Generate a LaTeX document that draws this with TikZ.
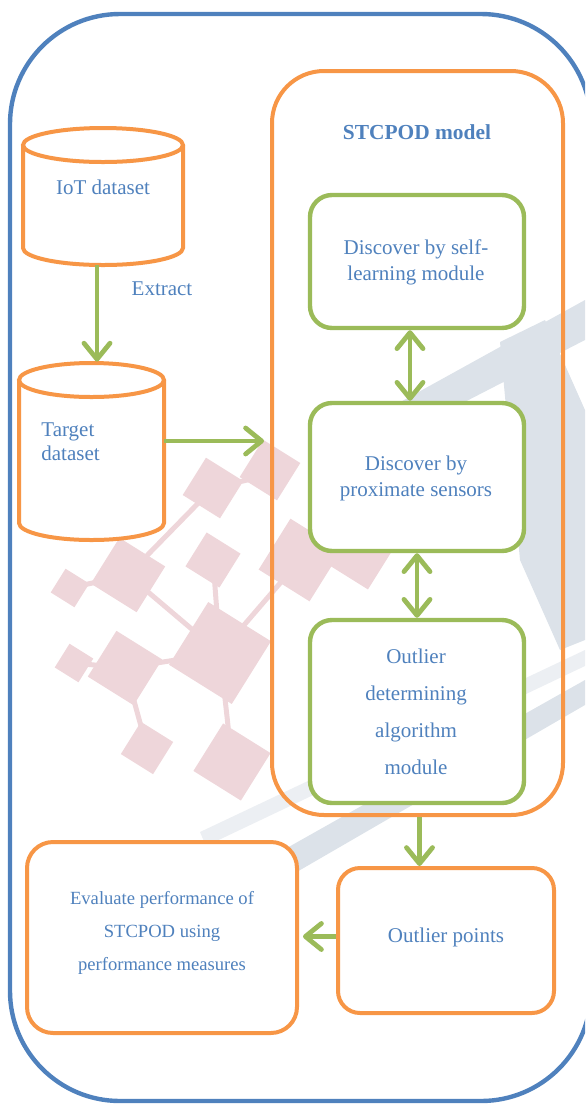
\documentclass[tikz,border=0pt]{standalone}
\usepackage{fontspec}
\setmainfont{Liberation Serif}
\usetikzlibrary{arrows.meta,fit}

\definecolor{frameblue}{RGB}{79,129,189}
\definecolor{boxorange}{RGB}{247,150,70}
\definecolor{boxgreen}{RGB}{155,187,89}
\definecolor{labelblue}{RGB}{79,129,189}
\definecolor{markpink}{RGB}{238,214,218}
\definecolor{markgray}{RGB}{220,226,233}
\definecolor{markgraylight}{RGB}{236,239,243}

\tikzset{
  txt/.style={text=labelblue, font=\fontsize{10.5pt}{13pt}\selectfont, align=center, inner sep=0pt},
  orangebox/.style={draw=boxorange, line width=2pt, fill=white, rounded corners=11pt, inner sep=0pt},
  greenbox/.style={draw=boxgreen, line width=2.2pt, fill=white, rounded corners=11pt, inner sep=0pt},
  cyl/.style={draw=boxorange, line width=2pt, fill=white},
  tipshape/.tip={Straight Barb[length=8pt,width=13pt,round]},
  flow/.style={draw=boxgreen, line width=2.4pt, -tipshape},
  flowboth/.style={draw=boxgreen, line width=2.4pt, tipshape-tipshape},
  sq/.style={fill=markpink},
}

\begin{document}
\begin{tikzpicture}[x=0.5pt,y=-0.5pt]
\useasboundingbox (0,0) rectangle (585,1105);
\clip (0,0) rectangle (585,1105);

% faint background emblem: pink network of squares
\begin{scope}[markpink, line width=2.5pt]
  \draw (70,588) -- (128,575) -- (213,488) -- (290,470);
  \draw (128,575) -- (220,653) -- (300,560);
  \draw (74,663) -- (125,668) -- (220,653) -- (232,762);
  \draw (125,668) -- (147,748);
  \draw (213,560) -- (220,653);
\end{scope}
\foreach \cx/\cy/\s in {213/488/22, 128/575/27, 213/560/20, 70/588/14,
  220/653/37, 125/668/27, 74/663/14, 147/748/19, 232/762/28,
  270/470/22, 300/560/30, 360/555/25}
  \fill[sq, shift={(\cx,\cy)}, rotate=-32] (-\s,-\s) rectangle (\s,\s);

% faint background emblem: grey bands
\fill[markgraylight] (200,832) -- (585,650) -- (585,666) -- (206,846) -- cycle;
\fill[markgray] (262,862) -- (585,680) -- (585,705) -- (276,884) -- cycle;
\fill[markgray] (395,405) -- (585,300) -- (585,340) -- (420,425) -- cycle;
\fill[markgray] (500,342) -- (545,320) -- (585,410) -- (585,640) -- (560,650) -- (520,560) -- cycle;

% outer frame (its right side runs just past the page edge)
\node[fit={(10,14) (591,1101)}, inner sep=0pt, draw=frameblue, line width=2.2pt,
      rounded corners=55pt] (frame) {};

% model container
\node[fit={(272,71) (563,815)}, inner sep=0pt, draw=boxorange, line width=2pt,
      rounded corners=26pt] (stcpod) {};
\node[txt, font=\fontsize{10.7pt}{13pt}\selectfont\bfseries] (stcpodtitle) at (417,132) {STCPOD model};

% modules
\node[greenbox, fit={(310,195) (524,328)}] (selflearn) {};
\node[txt] (selflearntext) at (416,262) {Discover by self-\\learning module};
\node[greenbox, fit={(310,403) (524,551)}] (proximate) {};
\node[txt] (proximatetext) at (416,478.5) {Discover by\\proximate sensors};
\node[greenbox, fit={(310,620) (524,803)}] (algorithm) {};
\node[txt, font=\fontsize{10.5pt}{18.5pt}\selectfont] (algorithmtext) at (416,712)
  {Outlier\\determining\\algorithm\\module};

% IoT dataset cylinder
\node[fit={(23,127) (183,265)}, inner sep=0pt] (iot) {};
\draw[cyl] (23,145) -- (23,248) arc[start angle=180, end angle=360, x radius=40pt, y radius=8.5pt] -- (183,145);
\draw[cyl] (103,145) ellipse [x radius=40pt, y radius=8.5pt];
\node[txt] (iotlabel) at (103,187) {IoT dataset};

% Target dataset cylinder
\node[fit={(19,362) (164,540)}, inner sep=0pt] (target) {};
\draw[cyl] (19,380) -- (19,523) arc[start angle=180, end angle=360, x radius=36.25pt, y radius=8.5pt] -- (164,380);
\draw[cyl] (91.5,380) ellipse [x radius=36.25pt, y radius=8.5pt];
\node[txt, align=left, anchor=west, font=\fontsize{10.5pt}{12pt}\selectfont] (targetlabel) at (41,442) {Target\\dataset};

% results
\node[orangebox, fit={(338,868) (554,1013)}] (outliers) {};
\node[txt] (outlierstext) at (446,937) {Outlier points};
\node[orangebox, fit={(27,842) (297,1033)}, rounded corners=13pt] (evaluate) {};
\node[txt, font=\fontsize{9.3pt}{16.5pt}\selectfont] (evaluatetext) at (162,933)
  {Evaluate performance of\\STCPOD using\\performance measures};

% connectors
\draw[flow] ([xshift=-3pt]iot.south) -- ([xshift=-3pt]iot.south |- target.north);
\node[txt] (extract) at (162,289) {Extract};
\draw[flow, shorten >=3pt] ([yshift=5pt]target.east) -- ([yshift=5pt]target.east -| stcpod.west);
\draw[flowboth] ([xshift=-3.5pt]selflearn.south) -- ([xshift=-3.5pt]proximate.north);
\draw[flowboth] (proximate.south) -- (algorithm.north);
\draw[flow] ([xshift=1pt]stcpod.south) -- ([xshift=1pt]stcpod.south |- outliers.north);
\draw[flow, shorten >=2pt] ([yshift=2pt]outliers.west) -- ([yshift=2pt]outliers.west -| evaluate.east);
\end{tikzpicture}
\end{document}
